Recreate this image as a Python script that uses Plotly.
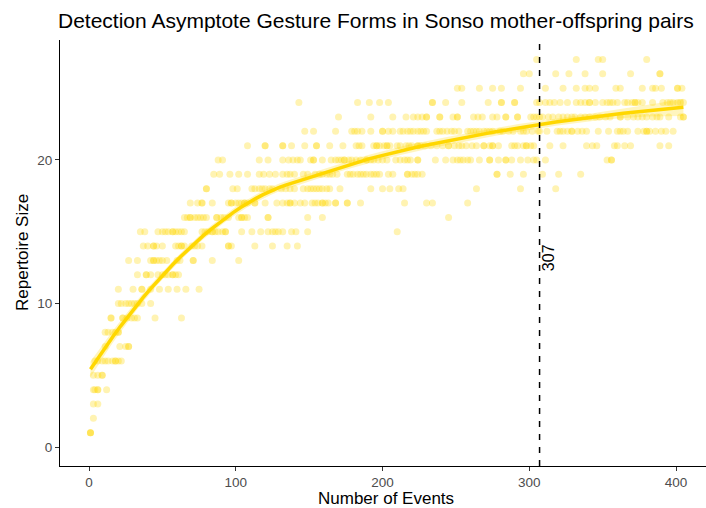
import numpy as np
import plotly.graph_objects as go

# Number of events at which each repertoire size was observed
size_1 = [1, 1, 1]
size_2 = [3]
size_3 = [3, 6]
size_4 = [3, 4, 6, 6, 12]
size_5 = [3, 6, 9, 9]
size_6 = [4, 6, 9, 11, 13, 16, 18, 18, 20, 22]
size_7 = [11, 21, 25, 27, 27]
size_8 = [11, 13, 16, 18, 20, 20]
size_9 = [15, 15, 23, 23, 26, 29, 31, 33, 45, 63]
size_10 = [20, 22, 25, 27, 29, 31, 33, 36, 42]
size_11 = [20, 30, 36, 36, 42, 48, 54, 60, 66, 75]
size_12 = [33, 39, 39, 42, 47, 50, 52, 54, 57, 57, 59, 61]
size_13 = [27, 33, 42, 44, 44, 46, 48, 50, 53, 60, 62, 71, 71, 84, 102]
size_14 = [37, 40, 44, 44, 46, 50, 59, 61, 63, 63, 65, 70, 72, 74, 77, 95, 95,
           97, 113, 125, 135, 142]
size_15 = [35, 38, 47, 50, 52, 54, 57, 57, 59, 61, 63, 65, 77, 79, 81, 84, 84,
           86, 88, 91, 93, 93, 104, 111, 117, 122, 125, 127, 129, 132, 138, 141,
           149, 210]
size_16 = [65, 67, 69, 69, 72, 74, 76, 78, 80, 87, 87, 90, 92, 95, 102, 104, 104,
           106, 108, 122, 122, 149, 159, 245]
size_17 = [69, 74, 77, 77, 84, 95, 97, 97, 100, 102, 104, 106, 106, 108, 113, 113,
           120, 128, 132, 135, 137, 137, 140, 144, 147, 152, 154, 156, 159, 159,
           161, 163, 168, 168, 176, 176, 185, 215, 230, 234, 258]
size_18 = [80, 80, 98, 101, 111, 113, 116, 118, 120, 123, 125, 131, 134, 137, 140,
           146, 149, 151, 153, 155, 157, 159, 162, 164, 171, 192, 200, 205, 211,
           214, 264, 294, 318]
size_19 = [85, 89, 96, 102, 108, 116, 119, 123, 127, 132, 135, 137, 140, 146, 149,
           154, 157, 159, 162, 164, 166, 169, 176, 178, 180, 183, 185, 187, 189,
           192, 194, 196, 198, 204, 207, 217, 217, 220, 222, 224, 227, 278, 278,
           287, 296, 309, 320, 335]
size_20 = [88, 91, 116, 122, 132, 136, 139, 142, 144, 151, 153, 153, 159, 165, 168,
           170, 172, 174, 174, 177, 179, 182, 185, 189, 189, 192, 194, 197, 200,
           203, 209, 212, 215, 217, 219, 224, 224, 236, 243, 248, 251, 253, 255,
           258, 260, 266, 273, 273, 279, 284, 284, 288, 294, 299, 303, 305, 311,
           353, 356, 356]
size_21 = [108, 120, 120, 132, 132, 138, 147, 155, 155, 164, 173, 182, 184, 186,
           194, 196, 196, 198, 201, 203, 203, 205, 210, 212, 216, 218, 220, 224,
           224, 226, 229, 233, 237, 241, 245, 245, 249, 252, 254, 257, 261, 264,
           269, 269, 273, 275, 275, 279, 288, 290, 292, 296, 298, 298, 301, 303,
           314, 323, 339, 343, 346, 358, 360, 365, 369, 389, 395]
size_22 = [147, 153, 168, 179, 181, 183, 186, 192, 200, 200, 204, 207, 212, 214,
           217, 219, 221, 224, 226, 228, 230, 237, 239, 241, 244, 247, 249, 252,
           258, 260, 262, 264, 266, 269, 271, 273, 275, 280, 282, 286, 289, 294,
           296, 298, 302, 306, 307, 312, 319, 321, 323, 326, 329, 329, 333, 336,
           339, 347, 354, 360, 362, 364, 367, 374, 378, 380, 380, 382, 386, 390,
           393, 398]
size_23 = [170, 192, 207, 216, 221, 224, 227, 230, 230, 239, 239, 248, 251, 251,
           262, 265, 268, 275, 278, 284, 284, 292, 292, 301, 303, 305, 307, 309,
           313, 316, 320, 323, 326, 329, 331, 335, 338, 341, 345, 348, 352, 355,
           362, 362, 367, 371, 374, 377, 380, 384, 387, 389, 395, 403, 405, 405]
size_24 = [143, 183, 191, 198, 204, 234, 234, 243, 254, 272, 281, 281, 290, 290,
           305, 307, 311, 314, 317, 321, 326, 332, 335, 338, 341, 341, 345, 350,
           353, 355, 357, 360, 365, 367, 370, 372, 372, 374, 377, 384, 391, 394,
           396, 398, 401, 403, 405]
size_25 = [251, 254, 266, 275, 281, 294, 311, 323, 332, 338, 341, 345, 359, 362,
           377, 384, 386, 390, 401, 401, 404]
size_26 = [296, 300, 318, 327, 338, 350, 369, 389, 389]
size_27 = [305, 332, 347, 350, 380]

repertoire_sizes = list(range(1, 28))
events_by_size = [size_1, size_2, size_3, size_4, size_5, size_6, size_7, size_8,
                  size_9, size_10, size_11, size_12, size_13, size_14, size_15,
                  size_16, size_17, size_18, size_19, size_20, size_21, size_22,
                  size_23, size_24, size_25, size_26, size_27]

asymptote_event = 307

GOLD = "#FFD700"
FONT = "Liberation Sans, Arial, sans-serif"

events = np.array([e for evs in events_by_size for e in evs], dtype=float)
repertoire = np.array([s for s, evs in zip(repertoire_sizes, events_by_size)
                       for _ in evs], dtype=float)


def loess_operator(x, x0, span=0.75):
    """Row of the local quadratic (tricube weighted) smoother at x0."""
    n = len(x)
    q = int(np.floor(n * span))
    d = np.abs(x - x0)
    dmax = np.sort(d)[q - 1]
    w = np.clip(1 - (d / dmax) ** 3, 0, None) ** 3
    X = np.column_stack([np.ones(n), x - x0, (x - x0) ** 2])
    XtW = X.T * w
    return np.linalg.solve(XtW @ X, XtW)[0]


# residual standard error of the smoother
fitted = np.empty_like(repertoire)
trace = 0.0
for i, xi in enumerate(events):
    li = loess_operator(events, xi)
    fitted[i] = li @ repertoire
    trace += li[i]
sigma = np.sqrt(np.sum((repertoire - fitted) ** 2) / (len(events) - trace))

grid = np.linspace(events.min(), events.max(), 80)
smooth = np.empty_like(grid)
se = np.empty_like(grid)
for j, g in enumerate(grid):
    lg = loess_operator(events, g)
    smooth[j] = lg @ repertoire
    se[j] = sigma * np.sqrt(np.sum(lg ** 2))
lower = smooth - 1.96 * se
upper = smooth + 1.96 * se

fig = go.Figure()

fig.add_trace(go.Scatter(
    x=events, y=repertoire, mode="markers",
    marker=dict(color=GOLD, size=7, opacity=0.3, line=dict(width=0)),
    hoverinfo="skip",
))

fig.add_trace(go.Scatter(
    x=np.concatenate([grid, grid[::-1]]),
    y=np.concatenate([upper, lower[::-1]]),
    fill="toself", fillcolor="rgba(255,215,0,0.25)",
    line=dict(width=0), mode="lines", hoverinfo="skip",
))

fig.add_trace(go.Scatter(
    x=grid, y=smooth, mode="lines",
    line=dict(color=GOLD, width=3.5), hoverinfo="skip",
))

fig.add_vline(x=asymptote_event, line=dict(color="black", width=1.5,
                                           dash="6px,7px"))

fig.add_annotation(
    x=asymptote_event, y=13.2, text=str(asymptote_event), showarrow=False,
    textangle=-90, xshift=9, font=dict(family=FONT, size=16, color="black"),
)

axis_common = dict(
    showgrid=False, zeroline=False, showline=True, linecolor="black",
    linewidth=1, ticks="outside", ticklen=4, tickwidth=1, tickcolor="#333333",
    tickfont=dict(family=FONT, size=13.5, color="#4D4D4D"),
)

fig.update_xaxes(range=[-19.76, 420.4], tickvals=[0, 100, 200, 300, 400],
                 **axis_common)
fig.update_yaxes(range=[-1.32, 28.36], tickvals=[0, 10, 20], **axis_common)

fig.add_annotation(
    xref="paper", yref="paper", x=(386 - 60) / 646, y=0, yshift=-32,
    xanchor="center", yanchor="middle", showarrow=False,
    text="Number of Events", font=dict(family=FONT, size=17, color="black"),
)
fig.add_annotation(
    xref="paper", yref="paper", x=0, xshift=-38, y=0.5,
    xanchor="center", yanchor="middle", showarrow=False, textangle=-90,
    text="Repertoire Size", font=dict(family=FONT, size=17, color="black"),
)
fig.add_annotation(
    xref="paper", yref="paper", x=0, xshift=-4, y=1, yshift=20,
    xanchor="left", yanchor="middle", showarrow=False,
    text="Detection Asymptote Gesture Forms in Sonso mother-offspring pairs",
    font=dict(family=FONT, size=21, color="black"),
)

fig.update_layout(
    width=706, height=508, margin=dict(l=60, r=0, t=40, b=42),
    plot_bgcolor="white", paper_bgcolor="white", showlegend=False,
)

fig.write_html("out.html")
